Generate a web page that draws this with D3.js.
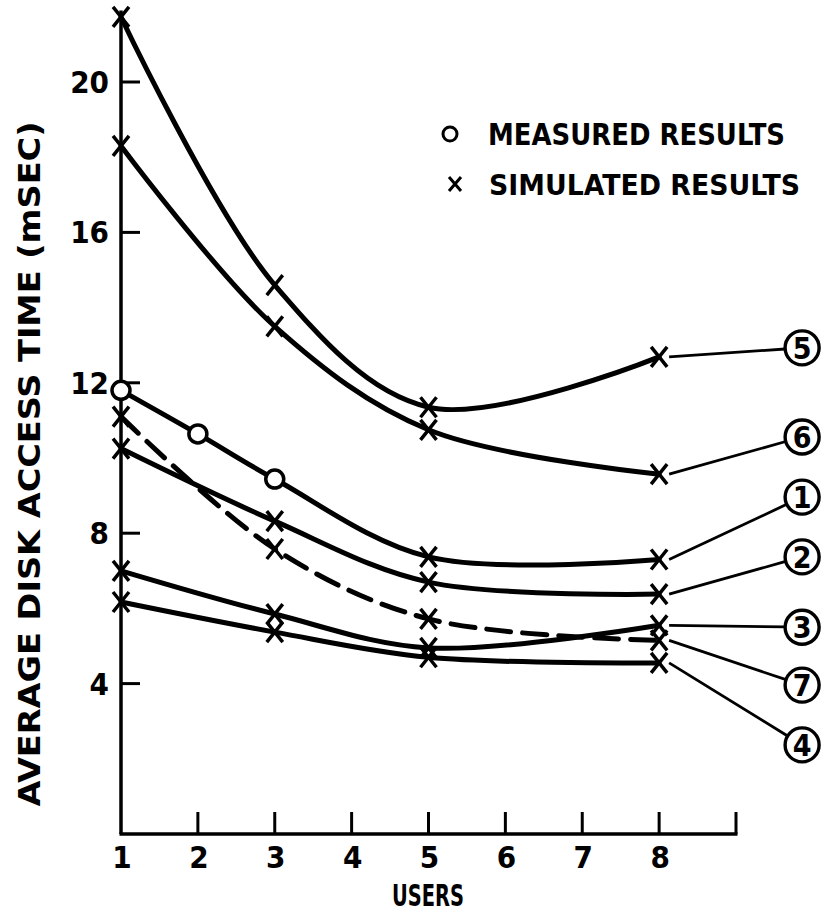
<!DOCTYPE html>
<html>
<head>
<meta charset="utf-8">
<script src="https://cdn.jsdelivr.net/npm/d3@7"></script>
<style>
  body { margin: 0; background: #fff; }
  text { font-family: "DejaVu Sans Condensed", "Liberation Sans Narrow", sans-serif; font-weight: bold; fill: #000; }
</style>
</head>
<body>
<div id="chart"></div>
<script>
// users on the x axis
var usersSim = [1, 3, 5, 8];
var usersMeas = [1, 2, 3];

// access time curves (mSEC), one per configuration
var curve1Meas = [11.8, 10.64, 9.44];  // measured, at 1, 2, 3 users
var curve1Sim = [7.37, 7.3];           // simulated, at 5 and 8 users
var curve2 = [10.25, 8.32, 6.7, 6.38];
var curve3 = [7.0, 5.85, 4.95, 5.55];
var curve4 = [6.17, 5.37, 4.7, 4.55];
var curve5 = [21.73, 14.6, 11.35, 12.69];
var curve6 = [18.3, 13.5, 10.75, 9.57];
var curve7 = [11.1, 7.58, 5.72, 5.15]; // dashed

// circled labels on the right: name and the value height they sit at
var labelNames = ["5", "6", "1", "2", "3", "7", "4"];
var labelValues = [12.93, 10.56, 8.96, 7.37, 5.5, 3.96, 2.37];
var labelUsers = 9.86;

var yTicks = [4, 8, 12, 16, 20];
var xTickLabels = [1, 2, 3, 4, 5, 6, 7, 8];
var xTickMarks = [2, 3, 4, 5, 6, 7, 8, 9];

var width = 821, height = 915;

var x = d3.scaleLinear().domain([1, 9]).range([121, 736]);
var y = d3.scaleLinear().domain([0, 20]).range([834, 82]);

var svg = d3.select("#chart").append("svg")
  .attr("width", width)
  .attr("height", height);

function pts(xs, ys) {
  return xs.map(function (u, i) { return { u: u, v: ys[i] }; });
}
var c1 = pts(usersMeas, curve1Meas).concat(pts([5, 8], curve1Sim));
var series = [
  { id: "5", data: pts(usersSim, curve5), dashed: false },
  { id: "6", data: pts(usersSim, curve6), dashed: false },
  { id: "1", data: c1, dashed: false },
  { id: "2", data: pts(usersSim, curve2), dashed: false },
  { id: "7", data: pts(usersSim, curve7), dashed: true },
  { id: "3", data: pts(usersSim, curve3), dashed: false },
  { id: "4", data: pts(usersSim, curve4), dashed: false }
];

// axes
var axisG = svg.append("g");
axisG.append("line")
  .attr("x1", x(1)).attr("x2", x(1))
  .attr("y1", y(0)).attr("y2", y(21.9))
  .attr("stroke", "#000").attr("stroke-width", 3.5);
axisG.append("line")
  .attr("x1", x(1) - 1.5).attr("x2", x(9) + 1.5)
  .attr("y1", y(0)).attr("y2", y(0))
  .attr("stroke", "#000").attr("stroke-width", 3.5);

axisG.selectAll(".ytick").data(yTicks).enter().append("line")
  .attr("x1", x(1)).attr("x2", x(1) + 19)
  .attr("y1", function (d) { return y(d); })
  .attr("y2", function (d) { return y(d); })
  .attr("stroke", "#000").attr("stroke-width", 3);
axisG.selectAll(".ylab").data(yTicks).enter().append("text")
  .attr("x", x(1) - 12)
  .attr("y", function (d) { return y(d) + 11; })
  .attr("text-anchor", "end")
  .attr("font-size", 31)
  .text(function (d) { return d; });

axisG.selectAll(".xtick").data(xTickMarks).enter().append("line")
  .attr("x1", function (d) { return x(d); })
  .attr("x2", function (d) { return x(d); })
  .attr("y1", y(0)).attr("y2", y(0) - 22)
  .attr("stroke", "#000").attr("stroke-width", 3);
axisG.selectAll(".xlab").data(xTickLabels).enter().append("text")
  .attr("x", function (d) { return x(d) + 1; })
  .attr("y", 868)
  .attr("text-anchor", "middle")
  .attr("font-size", 31)
  .text(function (d) { return d; });

svg.append("text")
  .attr("transform", "translate(428,906) scale(0.72,1)")
  .attr("text-anchor", "middle")
  .attr("font-size", 30)
  .text("USERS");

svg.append("text")
  .attr("transform", "translate(40,464) rotate(-90)")
  .attr("text-anchor", "middle")
  .attr("font-size", 31)
  .attr("textLength", 685).attr("lengthAdjust", "spacingAndGlyphs")
  .text("AVERAGE DISK ACCESS TIME (mSEC)");

// curves
var line = d3.line()
  .curve(d3.curveCatmullRom.alpha(0.5))
  .x(function (d) { return x(d.u); })
  .y(function (d) { return y(d.v); });

svg.selectAll(".curve").data(series).enter().append("path")
  .attr("d", function (d) { return line(d.data); })
  .attr("fill", "none")
  .attr("stroke", "#000")
  .attr("stroke-width", 5)
  .attr("stroke-linecap", "round")
  .attr("stroke-dasharray", function (d) { return d.dashed ? "24,12" : null; });

// markers
var xMark = "M-8,-10L8,10M8,-10L-8,10";
series.forEach(function (s) {
  s.data.forEach(function (p) {
    var measured = s.id === "1" && p.u <= 3;
    if (measured) {
      svg.append("circle")
        .attr("cx", x(p.u)).attr("cy", y(p.v)).attr("r", 9)
        .attr("fill", "#fff").attr("stroke", "#000").attr("stroke-width", 3.5);
    } else {
      svg.append("path")
        .attr("d", xMark)
        .attr("transform", "translate(" + x(p.u) + "," + y(p.v) + ")")
        .attr("fill", "none").attr("stroke", "#000").attr("stroke-width", 3.5);
    }
  });
});

// circled labels with leader lines
var lastVal = {};
series.forEach(function (s) { lastVal[s.id] = s.data[s.data.length - 1].v; });
var r = 17;
labelNames.forEach(function (name, i) {
  var cx = x(labelUsers), cy = y(labelValues[i]);
  var sx = x(8) + 10, sy = y(lastVal[name]);
  var dx = cx - sx, dy = cy - sy, len = Math.sqrt(dx * dx + dy * dy);
  svg.append("line")
    .attr("x1", sx).attr("y1", sy)
    .attr("x2", cx - dx / len * r).attr("y2", cy - dy / len * r)
    .attr("stroke", "#000").attr("stroke-width", 2.8);
  svg.append("circle")
    .attr("cx", cx).attr("cy", cy).attr("r", r)
    .attr("fill", "#fff").attr("stroke", "#000").attr("stroke-width", 3.4);
  svg.append("text")
    .attr("x", cx).attr("y", cy + 11)
    .attr("text-anchor", "middle")
    .attr("font-size", 30)
    .text(name);
});

// legend
svg.append("circle")
  .attr("cx", 450).attr("cy", 134).attr("r", 7)
  .attr("fill", "none").attr("stroke", "#000").attr("stroke-width", 3);
svg.append("text")
  .attr("x", 488).attr("y", 145)
  .attr("font-size", 30)
  .attr("textLength", 297).attr("lengthAdjust", "spacingAndGlyphs")
  .text("MEASURED RESULTS");
svg.append("path")
  .attr("d", "M-6,-7L6,7M6,-7L-6,7")
  .attr("transform", "translate(455,184)")
  .attr("fill", "none").attr("stroke", "#000").attr("stroke-width", 3);
svg.append("text")
  .attr("x", 489).attr("y", 195)
  .attr("font-size", 29)
  .attr("textLength", 311).attr("lengthAdjust", "spacingAndGlyphs")
  .text("SIMULATED RESULTS");
</script>
</body>
</html>
